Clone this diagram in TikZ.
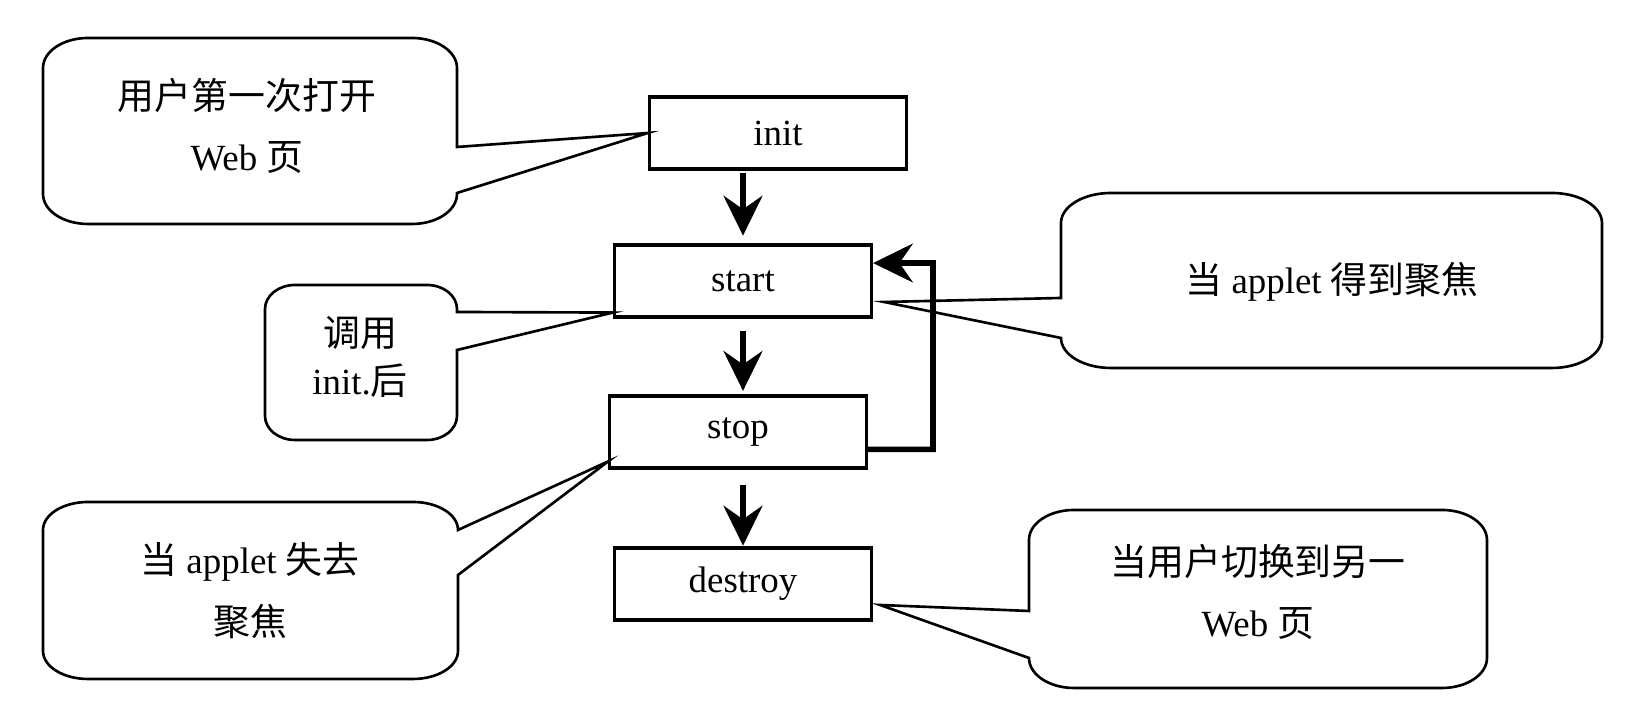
\documentclass[tikz,border=0pt]{standalone}
\usepackage{fontspec}
\setmainfont{Liberation Serif}
\newfontfamily\cjk{Noto Sans CJK SC}
\usetikzlibrary{arrows.meta}

\begin{document}
\begin{tikzpicture}[
  font=\fontsize{10.5}{17.6}\selectfont,
  phase/.style={draw, line width=0.9pt, minimum width=2.57cm, minimum height=0.72cm, inner sep=0pt},
  bubble/.style={draw, line width=0.75pt},
  note/.style={align=center, inner sep=0pt},
  flow/.style={line width=1.9pt, -{Stealth[length=11.3pt, width=11pt, inset=3.8pt]}},
  back/.style={line width=1.6pt, -{Stealth[length=11.3pt, width=11pt, inset=3.8pt]}}
]
\useasboundingbox (0,0) rectangle (16.47,7.23);

\node[phase] (init)    at (7.78, 5.90) {init};
\node[phase] (start)   at (7.43, 4.42) {start};
\node[phase] (stop)    at (7.38, 2.91) {stop};
\node[phase] (destroy) at (7.43, 1.39) {destroy};

\draw[flow, shorten <=0.8pt, shorten >=2.2pt] (init.south -| start.north) -- (start.north);
\draw[flow, shorten <=3.4pt, shorten >=1pt] (start.south) -- (start.south |- stop.north);
\draw[flow, shorten <=4.4pt, shorten >=0.2pt] (stop.south -| destroy.north) -- (destroy.north);

\coordinate (corner) at (9.33, 4.60);
\draw[back] ([yshift=-1.74mm]stop.east) -| (corner) -- ([yshift=1.79mm]start.east);

% callouts
\draw[bubble] (init.west) -- (4.57,5.30) -- (4.57,5.29) arc(0:-90:.45 and .3) -- (0.88,4.99) arc(270:180:.45 and .3)
  -- (0.43,6.55) arc(180:90:.45 and .3) -- (4.12,6.85) arc(90:0:.45 and .3) -- (4.57,5.76) -- cycle;
\node[note] (first) at (2.47, 5.97) {{\cjk 用户第一次打开}\\Web {\cjk 页}};

\draw[bubble] ([yshift=0.6mm]start.south west) -- (4.57,3.73) -- (4.57,3.07) arc(0:-90:.3 and .24) -- (2.95,2.83) arc(270:180:.3 and .24)
  -- (2.65,4.14) arc(180:90:.3 and .24) -- (4.27,4.38) arc(90:0:.3 and .24) -- (4.57,4.11) -- cycle;
\node[note] (called) at (3.60, 3.66) {{\cjk 调用}\\[-3.9pt]init.{\cjk 后}};

\draw[bubble] ([xshift=1.1mm, yshift=-2.1mm]start.east) -- (10.61,4.25) -- (10.61,5.00) arc(180:90:.5 and .3) -- (15.52,5.30) arc(90:0:.5 and .3)
  -- (16.02,3.85) arc(0:-90:.5 and .3) -- (11.11,3.55) arc(270:180:.5 and .3) -- cycle;
\node[note] (gain) at (13.32, 4.41) {{\cjk 当} applet {\cjk 得到聚焦}};

\draw[bubble] ([yshift=0.8mm]stop.south west) -- (4.58,1.48) -- (4.58,0.72) arc(0:-90:.45 and .28) -- (0.88,0.44) arc(270:180:.45 and .28)
  -- (0.43,1.93) arc(180:90:.45 and .28) -- (4.13,2.21) arc(90:0:.45 and .28) -- cycle;
\node[note] (lose) at (2.50, 1.32) {{\cjk 当} applet {\cjk 失去}\\{\cjk 聚焦}};

\draw[bubble] ([xshift=0.7mm, yshift=-2.1mm]destroy.east) -- (10.29,1.12) -- (10.29,1.83) arc(180:90:.45 and .3) -- (14.42,2.13) arc(90:0:.45 and .3)
  -- (14.87,0.65) arc(0:-90:.45 and .3) -- (10.74,0.35) arc(270:180:.45 and .3) -- cycle;
\node[note] (leave) at (12.58, 1.31) {{\cjk 当用户切换到另一}\\Web {\cjk 页}};
\end{tikzpicture}
\end{document}
